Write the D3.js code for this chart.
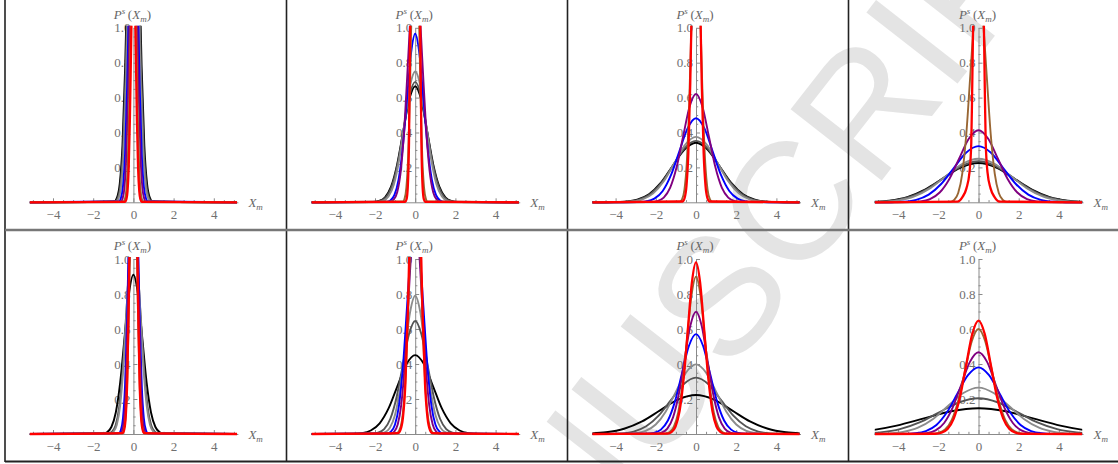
<!DOCTYPE html>
<html><head><meta charset="utf-8">
<script src="https://cdn.jsdelivr.net/npm/d3@7"></script>
<style>body{margin:0;background:#fff}svg{display:block}</style>
</head><body>
<svg id="chart" width="1118" height="464"></svg>
<script>
// ---------- data ----------
const xTickValues = [-4, -2, 0, 2, 4];
const xMinorTicks = [-5, -4.5, -3.5, -3, -2.5, -1.5, -1, -0.5, 0.5, 1, 1.5, 2.5, 3, 3.5, 4.5, 5];
const yTickValues = [0.2, 0.4, 0.6, 0.8, 1.0];
const yMinorTicks = [0.05, 0.1, 0.15, 0.25, 0.3, 0.35, 0.45, 0.5, 0.55, 0.65, 0.7, 0.75, 0.85, 0.9, 0.95];
const seriesNames = ["black", "dark gray", "gray", "blue", "purple", "brown", "red"];

// half profiles [X_m, P(X_m)] for X_m >= 0 (curves are symmetric), one array per curve
const panelTop1 = [
 [[0,2.41],[.136,2.127],[.272,1.462],[.408,.783],[.544,.326],[.68,.106],[.816,.027],[.952,.005]],
 [[0,2.27],[.129,2.003],[.258,1.377],[.387,.737],[.516,.307],[.645,.1],[.774,.025],[.903,.005]],
 [[0,2.13],[.122,1.88],[.244,1.292],[.366,.692],[.488,.288],[.61,.094],[.732,.024],[.854,.005]],
 [[0,2.05],[.104,1.809],[.208,1.243],[.312,.666],[.416,.277],[.52,.09],[.624,.023],[.728,.0045]],
 [[0,1.86],[.09,1.641],[.179,1.128],[.269,.604],[.358,.252],[.448,.082],[.537,.021],[.627,.004]],
 [[0,1.64],[.07,1.447],[.141,.995],[.211,.533],[.282,.222],[.352,.072],[.423,.018],[.493,.004]],
 [[0,1.44],[.059,1.271],[.117,.873],[.176,.468],[.234,.195],[.293,.063],[.352,.016],[.41,.003]]
];
const panelTop2 = [
 [[0,.665],[.3,.587],[.6,.403],[.9,.216],[1.2,.09],[1.5,.029],[1.8,.0074],[2.1,.0015]],
 [[0,.69],[.289,.609],[.578,.418],[.867,.224],[1.156,.093],[1.445,.03],[1.734,.0077],[2.023,.0015]],
 [[0,.75],[.266,.662],[.532,.455],[.798,.244],[1.064,.101],[1.33,.033],[1.596,.0083],[1.862,.0017]],
 [[0,.966],[.207,.853],[.413,.586],[.62,.314],[.826,.131],[1.033,.042],[1.239,.0107],[1.446,.0021]],
 [[0,1.33],[.179,1.174],[.358,.807],[.537,.432],[.716,.18],[.895,.058],[1.074,.0148],[1.253,.0029]],
 [[0,1.91],[.088,1.686],[.176,1.158],[.264,.62],[.352,.258],[.44,.084],[.528,.021],[.616,.0042]],
 [[0,7.8],[.062,6.88],[.123,4.73],[.185,2.53],[.246,1.055],[.308,.342],[.369,.087],[.431,.017],[.492,.003]]
];
const panelTop3 = [
 [[0,.341],[.585,.301],[1.17,.207],[1.755,.111],[2.34,.046],[2.925,.015],[3.51,.0038],[4.095,.0008]],
 [[0,.352],[.567,.311],[1.133,.213],[1.7,.114],[2.266,.048],[2.833,.0155],[3.399,.0039],[3.966,.0008]],
 [[0,.375],[.532,.331],[1.064,.227],[1.596,.122],[2.128,.051],[2.66,.0165],[3.192,.0042],[3.724,.0008]],
 [[0,.482],[.414,.425],[.828,.292],[1.242,.157],[1.656,.065],[2.07,.021],[2.484,.0054],[2.898,.0011]],
 [[0,.621],[.321,.548],[.642,.377],[.963,.202],[1.284,.084],[1.605,.027],[1.926,.0069],[2.247,.0014]],
 [[0,1.66],[.115,1.465],[.23,1.007],[.345,.539],[.46,.225],[.575,.073],[.69,.018],[.805,.0037]],
 [[0,2.1],[.095,1.853],[.19,1.274],[.285,.682],[.38,.284],[.475,.092],[.57,.023],[.665,.0046]]
];
const panelTop4 = [
 [[0,.225],[.887,.199],[1.773,.136],[2.66,.073],[3.546,.03],[4.433,.0099],[5.319,.0025],[6.206,.0005]],
 [[0,.235],[.849,.207],[1.697,.143],[2.546,.076],[3.394,.032],[4.243,.0103],[5.091,.0026],[5.94,.0005]],
 [[0,.25],[.798,.221],[1.596,.152],[2.394,.081],[3.192,.034],[3.99,.011],[4.788,.0028],[5.586,.0006]],
 [[0,.322],[.62,.284],[1.239,.195],[1.859,.105],[2.478,.044],[3.098,.014],[3.717,.0036],[4.337,.0007]],
 [[0,.413],[.483,.364],[.966,.25],[1.449,.134],[1.932,.056],[2.415,.018],[2.898,.0046],[3.381,.0009]],
 [[0,1.21],[.202,1.068],[.404,.734],[.606,.393],[.808,.164],[1.01,.053],[1.212,.0134],[1.414,.0027]],
 [[0,3],[.15,2],[.27,1],[.32,.6],[.36,.34],[.45,.17],[.6,.08],[.8,.03],[1.05,.004]]
];
const panelBottom1 = [
 [[0,.91],[.219,.803],[.438,.552],[.657,.295],[.876,.123],[1.095,.04],[1.314,.0101],[1.533,.002]],
 [[0,1.14],[.177,1.006],[.354,.691],[.531,.37],[.708,.154],[.885,.05],[1.062,.0127],[1.239,.0025]],
 [[0,1.2],[.165,1.059],[.33,.728],[.495,.39],[.66,.162],[.825,.053],[.99,.0133],[1.155,.0026]],
 [[0,2.05],[.104,1.809],[.208,1.243],[.312,.666],[.416,.277],[.52,.09],[.624,.023],[.728,.0045]],
 [[0,2.21],[.092,1.95],[.183,1.34],[.275,.718],[.366,.299],[.458,.097],[.549,.0245],[.641,.0049]],
 [[0,1.87],[.081,1.65],[.161,1.134],[.242,.607],[.322,.253],[.403,.082],[.483,.0208],[.564,.0041]],
 [[0,2.4],[.076,2.118],[.151,1.456],[.227,.779],[.302,.325],[.378,.105],[.453,.0266],[.529,.0053]]
];
const panelBottom2 = [
 [[0,.451],[.442,.398],[.884,.274],[1.326,.146],[1.768,.061],[2.21,.0198],[2.652,.005],[3.094,.001]],
 [[0,.646],[.309,.57],[.618,.392],[.927,.21],[1.236,.087],[1.545,.028],[1.854,.0072],[2.163,.0014]],
 [[0,.79],[.253,.697],[.505,.479],[.758,.257],[1.01,.107],[1.263,.035],[1.515,.0088],[1.768,.0017]],
 [[0,1.21],[.202,1.068],[.403,.734],[.605,.393],[.806,.164],[1.008,.053],[1.209,.0134],[1.411,.0027]],
 [[0,1.22],[.174,1.077],[.348,.74],[.522,.396],[.696,.165],[.87,.054],[1.044,.0135],[1.218,.0027]],
 [[0,1.68],[.133,1.483],[.266,1.019],[.399,.545],[.532,.227],[.665,.074],[.798,.0186],[.931,.0037]],
 [[0,2.13],[.122,1.88],[.244,1.292],[.366,.692],[.488,.288],[.61,.094],[.732,.024],[.854,.005]]
];
const panelBottom3 = [
 [[0,.223],[.895,.197],[1.789,.135],[2.684,.072],[3.578,.03],[4.473,.0098],[5.367,.0025],[6.262,.0005]],
 [[0,.322],[.62,.284],[1.239,.195],[1.859,.105],[2.478,.044],[3.098,.014],[3.717,.0036],[4.337,.0007]],
 [[0,.398],[.501,.351],[1.002,.241],[1.503,.129],[2.004,.054],[2.505,.0175],[3.006,.0044],[3.507,.0009]],
 [[0,.571],[.35,.504],[.699,.346],[1.049,.185],[1.398,.077],[1.748,.025],[2.097,.0063],[2.447,.0013]],
 [[0,.699],[.286,.617],[.571,.424],[.857,.227],[1.142,.095],[1.428,.031],[1.713,.0078],[1.999,.0015]],
 [[0,.899],[.222,.793],[.444,.545],[.666,.292],[.888,.122],[1.11,.039],[1.332,.01],[1.554,.002]],
 [[0,.981],[.204,.866],[.407,.595],[.611,.319],[.814,.133],[1.018,.043],[1.221,.0109],[1.425,.0022]]
];
const panelBottom4 = [
 [[0,.147],[1.357,.13],[2.714,.089],[4.071,.048],[5.428,.0199],[6.785,.0065]],
 [[0,.204],[.978,.18],[1.955,.124],[2.933,.066],[3.91,.0276],[4.888,.009],[5.865,.0023]],
 [[0,.265],[.753,.234],[1.505,.161],[2.258,.086],[3.01,.036],[3.763,.0116],[4.515,.0029],[5.268,.0006]],
 [[0,.381],[.524,.336],[1.047,.231],[1.571,.124],[2.094,.0515],[2.618,.0167],[3.141,.0042],[3.665,.0008]],
 [[0,.467],[.427,.412],[.854,.283],[1.281,.152],[1.708,.063],[2.135,.0205],[2.562,.0052],[2.989,.001]],
 [[0,.6],[.333,.53],[.665,.364],[.998,.195],[1.33,.081],[1.663,.026],[1.995,.0067],[2.328,.0013]],
 [[0,.648],[.308,.572],[.616,.393],[.924,.21],[1.232,.088],[1.54,.028],[1.848,.0072],[2.156,.0014]]
];
const panels = [panelTop1, panelTop2, panelTop3, panelTop4, panelBottom1, panelBottom2, panelBottom3, panelBottom4];

// ---------- layout & style ----------
const W = 1118, H = 464;
const colZero = [133.4, 415.2, 696.0, 978.5];
const UNIT = 20.1;
const rowBase = [202.3, 434.0];
const rowTop = [27.8, 259.0];
const AXIS_END = 5.2, CURVE_END = 5.16;
const colors = ["#000000", "#545454", "#8c8c8c", "#0000ff", "#800080", "#996633", "#ff0000"];
const widths = [1.9, 1.9, 1.9, 1.9, 1.9, 1.9, 2.3];
const SERIF = "'Liberation Serif', 'Times New Roman', serif";
const AXIS_COLOR = "#8a8a8a", LABEL_COLOR = "#707070";

const svg = d3.select("#chart");
svg.append("rect").attr("width", W).attr("height", H).attr("fill", "#fff");

// watermark (clipped to the figure area)
svg.append("clipPath").attr("id", "figClip").append("rect").attr("width", W).attr("height", H);
svg.append("g").attr("clip-path", "url(#figClip)").append("text")
  .attr("transform", "translate(425,765) rotate(-52)")
  .attr("font-family", "'Liberation Sans', Arial, sans-serif")
  .attr("font-size", 168)
  .attr("fill", "#e4e4e4")
  .text("MANUSCRIPT");

// frame lines
const vLines = [5, 286.5, 567.5, 848.5];
vLines.forEach(xv => svg.append("line").attr("x1", xv).attr("x2", xv).attr("y1", 0).attr("y2", 462)
  .attr("stroke", "#222").attr("stroke-width", 1.6));
svg.append("line").attr("x1", 5).attr("x2", W).attr("y1", 230).attr("y2", 230).attr("stroke", "#777").attr("stroke-width", 2.4);
svg.append("line").attr("x1", 5).attr("x2", W).attr("y1", 461.5).attr("y2", 461.5).attr("stroke", "#222").attr("stroke-width", 1.8);

function styleAxis(sel) {
  sel.attr("font-family", SERIF).attr("font-size", 13).attr("color", AXIS_COLOR);
  sel.selectAll("text").attr("fill", LABEL_COLOR);
}

panels.forEach((curves, i) => {
  const col = i % 4, row = Math.floor(i / 4);
  const z = colZero[col];
  const x = d3.scaleLinear().domain([-AXIS_END, AXIS_END]).range([z - AXIS_END * UNIT, z + AXIS_END * UNIT]);
  const y = d3.scaleLinear().domain([0, 1]).range([rowBase[row], rowTop[row]]);
  const g = svg.append("g");

  // x axis
  g.append("g").attr("transform", `translate(0,${rowBase[row]})`)
    .call(d3.axisBottom(x).tickValues(xMinorTicks).tickSize(-2.2).tickSizeOuter(0).tickFormat(""))
    .call(s => s.select(".domain").remove()).call(styleAxis);
  g.append("g").attr("transform", `translate(0,${rowBase[row]})`)
    .call(d3.axisBottom(x).tickValues(xTickValues).tickSize(-4).tickSizeOuter(0).tickPadding(7.5)
      .tickFormat(d => d < 0 ? "\u2212" + Math.abs(d) : String(d)))
    .call(styleAxis);
  // y axis
  g.append("g").attr("transform", `translate(${x(0)},0)`)
    .call(d3.axisLeft(y).tickValues(yMinorTicks).tickSize(-2.2).tickSizeOuter(0).tickFormat(""))
    .call(s => s.select(".domain").remove()).call(styleAxis);
  g.append("g").attr("transform", `translate(${x(0)},0)`)
    .call(d3.axisLeft(y).tickValues(yTickValues).tickSize(-4).tickSizeOuter(0).tickPadding(3)
      .tickFormat(d3.format(".1f")))
    .call(styleAxis);

  // curves
  const clipId = "clip" + i;
  svg.append("clipPath").attr("id", clipId).append("rect")
    .attr("x", x(-CURVE_END)).attr("width", x(CURVE_END) - x(-CURVE_END))
    .attr("y", y(1.012)).attr("height", rowBase[row] + 4 - y(1.012));
  const line = d3.line().x(d => x(d[0])).y(d => y(d[1])).curve(d3.curveMonotoneX);
  const cg = g.append("g").attr("clip-path", `url(#${clipId})`);
  curves.forEach((half, k) => {
    let pts = half.slice(1).reverse().map(([a, b]) => [-a, b]).concat(half);
    if (pts[pts.length - 1][0] < CURVE_END) pts = [[-CURVE_END, 0]].concat(pts, [[CURVE_END, 0]]);
    cg.append("path").attr("d", line(pts)).attr("fill", "none")
      .attr("stroke", colors[k]).attr("stroke-width", widths[k])
      .attr("stroke-linejoin", "round").attr("data-series", seriesNames[k]);
  });

  // axis labels
  const t = g.append("text").attr("x", x(0) - 1).attr("y", rowTop[row] - 9)
    .attr("text-anchor", "middle").attr("font-family", SERIF).attr("font-size", 13).attr("fill", "#666");
  t.append("tspan").attr("font-style", "italic").text("P");
  t.append("tspan").attr("font-style", "italic").attr("font-size", 9).attr("dy", -5).text("s");
  t.append("tspan").attr("dy", 5).text("\u2009(");
  t.append("tspan").attr("font-style", "italic").text("X");
  t.append("tspan").attr("font-style", "italic").attr("font-size", 9).attr("dy", 3).text("m");
  t.append("tspan").attr("dy", -3).text(")");

  const xl = g.append("text").attr("x", x(0) + 115).attr("y", rowBase[row] + 5)
    .attr("font-family", SERIF).attr("font-size", 13).attr("fill", "#666").attr("font-style", "italic");
  xl.append("tspan").text("X");
  xl.append("tspan").attr("font-size", 9).attr("dy", 3).text("m");
});
</script>
</body></html>
